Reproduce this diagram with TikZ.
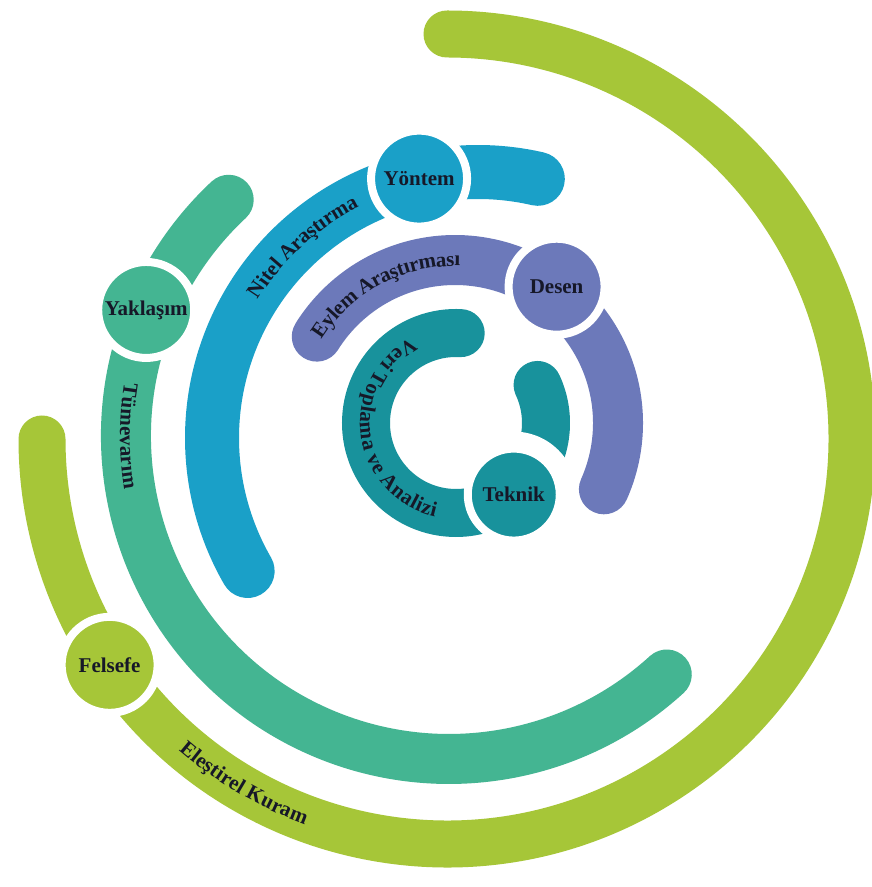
\documentclass[tikz,border=0pt]{standalone}
\usepackage{fontspec}
\setmainfont{Liberation Serif}
\usetikzlibrary{calc,decorations.text}
\definecolor{cGreen}{RGB}{166,198,56}
\definecolor{cMint}{RGB}{68,181,146}
\definecolor{cBlue}{RGB}{26,160,200}
\definecolor{cPurple}{RGB}{108,121,186}
\definecolor{cTeal}{RGB}{24,146,156}
\definecolor{cText}{RGB}{22,24,40}
\newcommand{\onring}[3]{  ($(#1)+(#2:#3)$)  }
\newcommand{\arcfont}{\bfseries\fontsize{21}{21}\selectfont\color{cText}}

\begin{document}
\begin{tikzpicture}[x = 1pt, y = 1pt,
	band/.style = {line width = #1, line cap = round},
	disc/.style = {circle, draw = white, line width = 8pt, minimum size = 96pt, inner sep = 0pt,
		font = \bfseries\fontsize{21}{21}\selectfont, text = cText},
	arctext/.style = {decorate, decoration = {text along path, text align = center,
		raise = -6pt, text = {|\arcfont|#1}}},
]
	\fill[white] (0,0) rectangle (871,887);
	\useasboundingbox (0,0) rectangle (871,887);

	\def \rG {405pt};
	\def \rV {323pt};
	\def \rB {266pt};
	\def \rP {163pt};
	\def \rT {90pt};

	\coordinate (cG) at (447,448);
	\coordinate (cV) at (449,451);
	\coordinate (cB) at (478,449);
	\coordinate (cP) at (455,464);
	\coordinate (cT) at (456,464);
	\coordinate (pTeknik) at ($(cT)+(-51.1:92pt)$);

%rings, outer to inner
	\draw[band = 47pt, cGreen] \onring{cG}{-146.2}{\rG} arc (-146.2:90:\rG);
	\draw[band = 47pt, cGreen] \onring{cG}{180}{\rG} arc (180:213.8:\rG);

	\draw[band = 50pt, cMint] \onring{cV}{157.4}{\rV} arc (157.4:312.4:\rV);
	\draw[band = 50pt, cMint] \onring{cV}{133}{\rV} arc (133:157.4:\rV);

	\draw[band = 54pt, cBlue] \onring{cB}{102.8}{\rB} arc (102.8:210:\rB);
	\draw[band = 54pt, cBlue] \onring{cB}{77}{\rB} arc (77:102.8:\rB);

	\draw[band = 48pt, cTeal] \onring{cT}{-51.1}{\rT} arc (-51.1:25:\rT);
	\fill[white] (pTeknik) circle (63pt);
	\draw[band = 48pt, cTeal] \onring{cT}{87}{\rT} arc (87:308.9:\rT);

	\draw[band = 50pt, cPurple] \onring{cP}{53.3}{\rP} arc (53.3:148:\rP);
	\draw[band = 50pt, cPurple] \onring{cP}{-24}{\rP} arc (-24:53.3:\rP);

%texts on the rings
	\path[arctext = Eleştirel Kuram] \onring{cG}{219.5}{\rG} arc (219.5:259.5:\rG);
	\path[arctext = Tümevarım] \onring{cV}{160}{\rV} arc (160:200:\rV);
	\path[arctext = Nitel Araştırma] \onring{cB}{160}{\rB} arc (160:105:\rB);
	\path[arctext = Eylem Araştırması] \onring{cP}{178}{\rP} arc (178:58:\rP);
	\path[arctext = Veri Toplama ve Analizi] \onring{cT}{97.5}{\rT} arc (97.5:277.5:\rT);

%labels
	\node[disc, fill = cGreen] (felsefe) at ($(cG)+(213.8:406pt)$) {Felsefe};
	\node[disc, fill = cMint] (yaklasim) at ($(cV)+(157.4:328pt)$) {Yaklaşım};
	\node[disc, fill = cBlue] (yontem) at ($(cB)+(102.8:266pt)$) {Yöntem};
	\node[disc, fill = cPurple] (desen) at ($(cP)+(53.3:170pt)$) {Desen};
	\node[disc, fill = cTeal, minimum size = 92pt] (teknik) at (pTeknik) {Teknik};
\end{tikzpicture}
\end{document}
